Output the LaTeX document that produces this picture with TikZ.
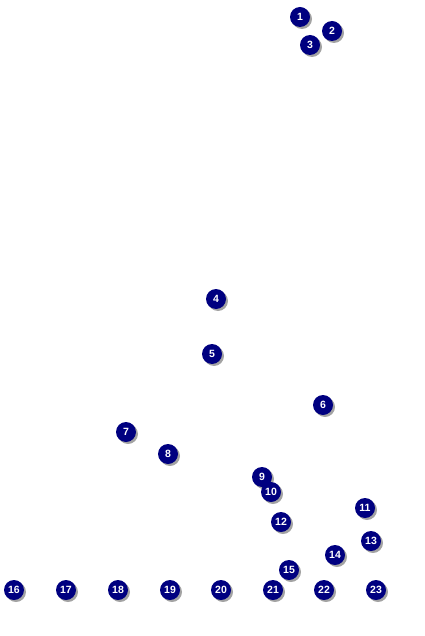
\documentclass[tikz,border=0pt]{standalone}
\usepackage{fontspec}
\setmainfont{Liberation Sans}
\usetikzlibrary{shadows}
\definecolor{navyball}{HTML}{000080}
\tikzset{
  ball/.style={circle, fill=navyball, minimum size=20pt, inner sep=0pt,
    text=white, font=\fontsize{10.5}{11}\selectfont\bfseries,
    drop shadow={shadow xshift=2pt, shadow yshift=-2pt, fill=black!45, opacity=0.8}}
}
\begin{document}
\begin{tikzpicture}[x=1pt,y=-1pt]
\useasboundingbox (0,0) rectangle (424,636);
\node[ball] (n1) at (300,17) {1};
\node[ball] (n2) at (332,31) {2};
\node[ball] (n3) at (310,45) {3};
\node[ball] (n4) at (216,299) {4};
\node[ball] (n5) at (212,354) {5};
\node[ball] (n6) at (323,405) {6};
\node[ball] (n7) at (126,432) {7};
\node[ball] (n8) at (168,454) {8};
\node[ball] (n9) at (262,477) {9};
\node[ball] (n10) at (271,492) {10};
\node[ball] (n11) at (365,508) {11};
\node[ball] (n12) at (281,522) {12};
\node[ball] (n13) at (371,541) {13};
\node[ball] (n14) at (335,555) {14};
\node[ball] (n15) at (289,570) {15};
\node[ball] (n16) at (14,590) {16};
\node[ball] (n17) at (66,590) {17};
\node[ball] (n18) at (118,590) {18};
\node[ball] (n19) at (170,590) {19};
\node[ball] (n20) at (221,590) {20};
\node[ball] (n21) at (273,590) {21};
\node[ball] (n22) at (324,590) {22};
\node[ball] (n23) at (376,590) {23};
\end{tikzpicture}
\end{document}
